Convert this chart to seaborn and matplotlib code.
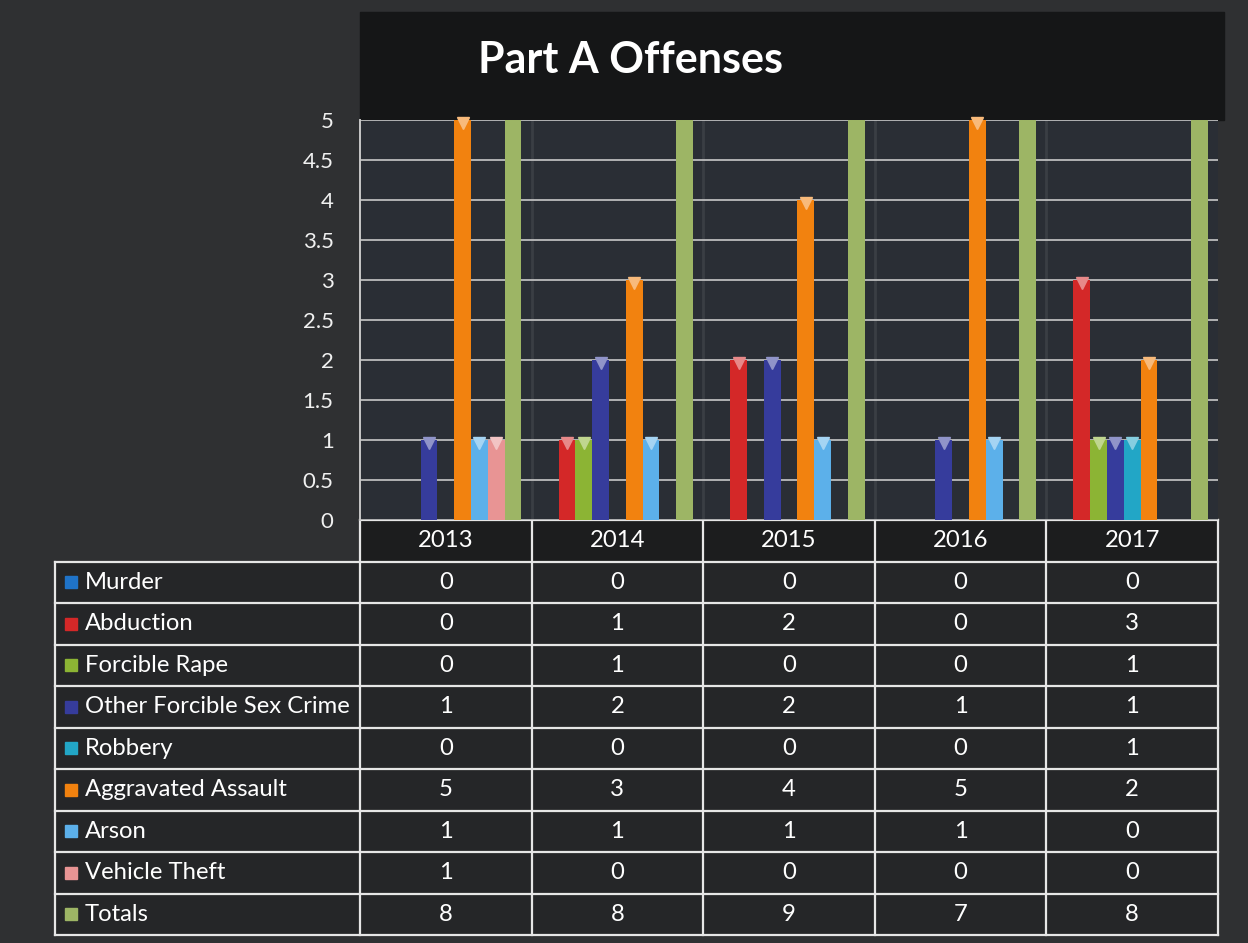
import matplotlib.pyplot as plt
import matplotlib.colors as mcolors
import seaborn as sns
import pandas as pd
import numpy as np

# ---- data ----
years = ['2013', '2014', '2015', '2016', '2017']
offenses = ['Murder', 'Abduction', 'Forcible Rape', 'Other Forcible Sex Crime',
            'Robbery', 'Aggravated Assault', 'Arson', 'Vehicle Theft', 'Totals']
murder = [0, 0, 0, 0, 0]
abduction = [0, 1, 2, 0, 3]
forcible_rape = [0, 1, 0, 0, 1]
other_sex_crime = [1, 2, 2, 1, 1]
robbery = [0, 0, 0, 0, 1]
agg_assault = [5, 3, 4, 5, 2]
arson = [1, 1, 1, 1, 0]
vehicle_theft = [1, 0, 0, 0, 0]
totals = [8, 8, 9, 7, 8]
series = [murder, abduction, forcible_rape, other_sex_crime, robbery,
          agg_assault, arson, vehicle_theft, totals]
colors = ['#1f73c8', '#d42828', '#8cb434', '#363c9c', '#22a6c6',
          '#f2820f', '#5cb0ea', '#e89494', '#9db565']

df = pd.DataFrame([
    {'Year': y, 'Offense': o, 'Count': v}
    for o, vals in zip(offenses, series) for y, v in zip(years, vals)
])

plt.rcParams['ytick.major.pad'] = 19
plt.rcParams['ytick.major.size'] = 0

W, H = 1248, 943
bg = '#2f3032'
fig = plt.figure(figsize=(W / 100, H / 100), dpi=100, facecolor=bg)
font = 'Lato'

# full-figure overlay in pixel coordinates
ov = fig.add_axes([0, 0, 1, 1], zorder=0)
ov.set_xlim(0, W)
ov.set_ylim(H, 0)
ov.axis('off')

# layout (pixels)
px_left, px_right = 360, 1218
px_top, px_bottom = 120, 520
lab_left = 55
row_edges = np.linspace(520, 935, 11)
col_edges = np.linspace(px_left, px_right, len(years) + 1)

# title band
ov.add_patch(plt.Rectangle((px_left, 12), px_right - px_left + 6, 108, color='#151617', zorder=0))
ov.text(630, 60, 'Part A Offenses', color='white', fontsize=31,
        fontweight='bold', ha='center', va='center', family=font)

# ---- bar chart ----
ax = fig.add_axes([px_left / W, 1 - px_bottom / H, (px_right - px_left) / W,
                   (px_bottom - px_top) / H], zorder=2)
ax.set_facecolor('#2a2e35')
sns.barplot(data=df, x='Year', y='Count', hue='Offense', hue_order=offenses,
            order=years, palette=colors, width=0.88, saturation=1,
            legend=False, ax=ax, zorder=3)
ax.set_xlim(-0.5, len(years) - 0.5)
ax.set_ylim(0, 5)
ax.set_yticks(np.arange(0, 5.01, 0.5))
ax.set_yticklabels([f'{t:g}' for t in np.arange(0, 5.01, 0.5)],
                   color='#f0f0f0', fontsize=16, family=font)
ax.tick_params(axis='x', length=0, labelbottom=False)
ax.set_xlabel('')
ax.set_ylabel('')
ax.grid(axis='y', color='#c8c8c8', linewidth=1.2, zorder=1)
for x in np.arange(0.5, len(years) - 0.5, 1):
    ax.axvline(x, color='#3a3e44', linewidth=2, zorder=1)
for k, s in ax.spines.items():
    s.set_visible(k == 'left')
ax.spines['left'].set_color('#c8c8c8')
ax.spines['left'].set_linewidth(1.4)

# light bevel caps on bar tops
for p in ax.patches:
    h = p.get_height()
    if h > 0 and h <= 5:
        fc = np.array(mcolors.to_rgb(p.get_facecolor()))
        light = fc + (1 - fc) * 0.45
        ax.plot(p.get_x() + p.get_width() / 2, h - 0.04, marker='v',
                markersize=8, color=light, zorder=4, clip_on=False)

# ---- data table ----
cell_bg = '#252628'
ov.add_patch(plt.Rectangle((px_left, row_edges[0]), px_right - px_left,
                           row_edges[1] - row_edges[0], color='#1c1d1e', zorder=0))
ov.add_patch(plt.Rectangle((lab_left, row_edges[1]), px_right - lab_left,
                           row_edges[-1] - row_edges[1], color=cell_bg, zorder=0))
lc = '#e6e6e6'
lw = 1.6
ov.plot([px_left, px_right], [row_edges[0]] * 2, color=lc, lw=lw)
for yv in row_edges[1:]:
    ov.plot([lab_left, px_right], [yv, yv], color=lc, lw=lw)
ov.plot([lab_left, lab_left], [row_edges[1], row_edges[-1]], color=lc, lw=lw)
for xv in col_edges:
    ov.plot([xv, xv], [row_edges[0], row_edges[-1]], color=lc, lw=lw)

txt = dict(color='white', fontsize=17.2, family=font, va='center')
for j, y in enumerate(years):
    ov.text((col_edges[j] + col_edges[j + 1]) / 2,
            (row_edges[0] + row_edges[1]) / 2, y, ha='center', **txt)
for i, (o, vals, c) in enumerate(zip(offenses, series, colors)):
    yc = (row_edges[i + 1] + row_edges[i + 2]) / 2
    ov.add_patch(plt.Rectangle((lab_left + 10, yc - 6), 12, 12, color=c, zorder=2))
    ov.text(lab_left + 30, yc, o, ha='left', **txt)
    for j, v in enumerate(vals):
        ov.text((col_edges[j] + col_edges[j + 1]) / 2, yc, str(v), ha='center', **txt)

fig.savefig('out.png', dpi=100, facecolor=bg)
